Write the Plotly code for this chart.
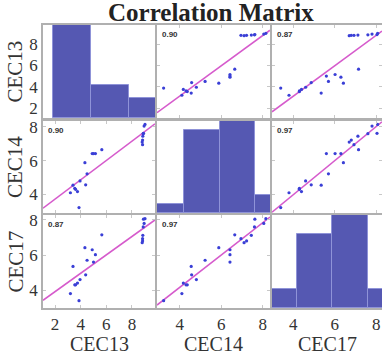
import numpy as np
import plotly.graph_objects as go

# ---- data ----
VARS = ["CEC13", "CEC14", "CEC17"]
CEC13 = [3.2, 3.87, 3.4, 3.54, 3.6, 3.75, 3.95, 4.39, 4.33, 4.5, 4.9, 5.15, 5.0, 5.65,
         9.02, 8.95, 8.9, 8.88, 8.85, 8.83, 8.83, 8.8]
CEC14 = [4.1, 3.22, 4.55, 4.36, 4.3, 4.17, 4.8, 4.57, 5.88, 5.22, 6.42, 6.42, 6.42, 6.65,
         8.15, 8.05, 7.62, 7.6, 7.45, 7.22, 6.95, 7.1]
CEC17 = [3.8, 3.4, 5.35, 4.3, 4.3, 4.4, 4.6, 4.87, 6.42, 5.7, 6.3, 6.02, 5.6, 7.15,
         8.07, 7.8, 8.04, 7.6, 7.12, 6.8, 6.93, 6.7]

CORR_LABELS = [["", "0.90", "0.87"],
               ["0.90", "", "0.97"],
               ["0.87", "0.97", ""]]

HIST13_EDGES = [1.85, 4.8, 7.75, 10.7]
HIST13_COUNTS = [14, 5, 3]
HIST14_EDGES = [2.51, 4.21, 5.92, 7.62, 9.32]
HIST14_COUNTS = [1, 9, 10, 2]
HIST17_EDGES = [2.48, 4.18, 5.89, 7.59, 9.3]
HIST17_COUNTS = [2, 8, 10, 2]

RANGE13 = [1.06, 9.8]
RANGE14 = [2.9, 8.35]
RANGE17 = [2.98, 8.28]
TICK_VALUES = [2, 4, 6, 8]
TICK_LABELS = ["2", "4", "6", "8"]

DATA = [CEC13, CEC14, CEC17]
RANGES = [RANGE13, RANGE14, RANGE17]
HISTS = [(HIST13_EDGES, HIST13_COUNTS), (HIST14_EDGES, HIST14_COUNTS), (HIST17_EDGES, HIST17_COUNTS)]

# ---- layout geometry ----
W, H = 382, 355
ML, MT = 43, 25
PW = W - ML
PH = 283
MB = H - MT - PH
col_px = [(43, 155), (157, 270), (272, 383)]
row_px = [(25, 118), (121, 213), (215, 308)]


def px_x(x):
    return (x - ML) / PW


def px_y(y):
    return (MT + PH - y) / PH


col_dom = [[px_x(a), min(1.0, px_x(b))] for a, b in col_px]
row_dom = [[px_y(b), px_y(a)] for a, b in row_px]

BAR_COLOR = "#5558b2"
PT_COLOR = "#3a3fd6"
LINE_COLOR = "#d65bcc"
FRAME = "#b0b0b0"

fig = go.Figure()
layout = {}
annotations = []


def ax_name(k, kind):
    return f"{kind}axis" if k == 1 else f"{kind}axis{k}"


def ref(k, kind):
    return kind if k == 1 else f"{kind}{k}"


# histograms on their own hidden axes sharing the diagonal cells' area
for r in range(3):
    hk = 10 + r
    edges, counts = HISTS[r]
    edges = np.array(edges)
    layout[ax_name(hk, "x")] = dict(domain=col_dom[r], range=RANGES[r], visible=False,
                                    anchor=ref(hk, "y"))
    layout[ax_name(hk, "y")] = dict(domain=row_dom[r], range=[0, max(counts)], visible=False,
                                    anchor=ref(hk, "x"))
    fig.add_trace(go.Bar(x=(edges[:-1] + edges[1:]) / 2, y=counts, width=np.diff(edges),
                         marker=dict(color=BAR_COLOR, line=dict(color="#8f93d8", width=1)),
                         xaxis=ref(hk, "x"), yaxis=ref(hk, "y"), showlegend=False,
                         hoverinfo="skip"))

for r in range(3):
    for c in range(3):
        k = r * 3 + c + 1
        xr = RANGES[c]
        yr = RANGES[r]
        common = dict(showline=True, linecolor=FRAME, linewidth=1.5, mirror="allticks",
                      ticks="inside", ticklen=3, tickcolor="#c8c8c8", showgrid=False,
                      zeroline=False, tickvals=TICK_VALUES, ticktext=TICK_LABELS,
                      layer="above traces", type="linear",
                      tickfont=dict(family="Liberation Serif", size=17, color="#333"))
        layout[ax_name(k, "x")] = dict(common, domain=col_dom[c], range=xr, anchor=ref(k, "y"),
                                       showticklabels=(r == 2))
        layout[ax_name(k, "y")] = dict(common, domain=row_dom[r], range=yr, anchor=ref(k, "x"),
                                       showticklabels=(c == 0))
        xv = np.array(DATA[c])
        yv = np.array(DATA[r])
        if r == c:
            # invisible carrier trace so the diagonal cell's own axes get drawn
            fig.add_trace(go.Scatter(x=xv, y=yv, mode="markers", marker=dict(opacity=0),
                                     xaxis=ref(k, "x"), yaxis=ref(k, "y"),
                                     showlegend=False, hoverinfo="skip"))
            continue
        slope, icpt = np.polyfit(xv, yv, 1)
        lx = np.array(xr)
        fig.add_trace(go.Scatter(x=lx, y=slope * lx + icpt, mode="lines",
                                 line=dict(color=LINE_COLOR, width=1.6),
                                 xaxis=ref(k, "x"), yaxis=ref(k, "y"), showlegend=False))
        fig.add_trace(go.Scatter(x=xv, y=yv, mode="markers",
                                 marker=dict(color=PT_COLOR, size=3.2),
                                 xaxis=ref(k, "x"), yaxis=ref(k, "y"), showlegend=False))
        annotations.append(dict(text="<b>" + CORR_LABELS[r][c] + "</b>",
                                xref=f"{ref(k, 'x')} domain",
                                yref=f"{ref(k, 'y')} domain", x=0.03, y=0.97,
                                xanchor="left", yanchor="top", showarrow=False,
                                font=dict(family="Arial", size=8, color="#333")))

# axis titles
for i, name in enumerate(VARS):
    cx = (col_px[i][0] + min(col_px[i][1], 382)) / 2
    annotations.append(dict(text=name, xref="paper", yref="paper",
                            x=px_x(cx), y=px_y(344),
                            xanchor="center", yanchor="middle", showarrow=False,
                            font=dict(family="Liberation Serif", size=20, color="#333")))
    cy = (row_px[i][0] + row_px[i][1]) / 2
    annotations.append(dict(text=name, xref="paper", yref="paper",
                            x=px_x(15), y=px_y(cy), textangle=-90,
                            xanchor="center", yanchor="middle", showarrow=False,
                            font=dict(family="Liberation Serif", size=21, color="#333")))

annotations.append(dict(text="<b>Correlation Matrix</b>", xref="paper", yref="paper",
                        x=px_x(211), y=px_y(13),
                        xanchor="center", yanchor="middle", showarrow=False,
                        font=dict(family="Liberation Serif", size=25, color="#222")))

fig.update_layout(width=W, height=H,
                  margin=dict(l=ML, r=0, t=MT, b=MB, autoexpand=False),
                  paper_bgcolor="white", plot_bgcolor="white", bargap=0,
                  annotations=annotations, **layout)

fig.write_html("out.html", config={"displayModeBar": False},
               post_script="document.body.style.margin='0';document.body.style.overflow='hidden';")
